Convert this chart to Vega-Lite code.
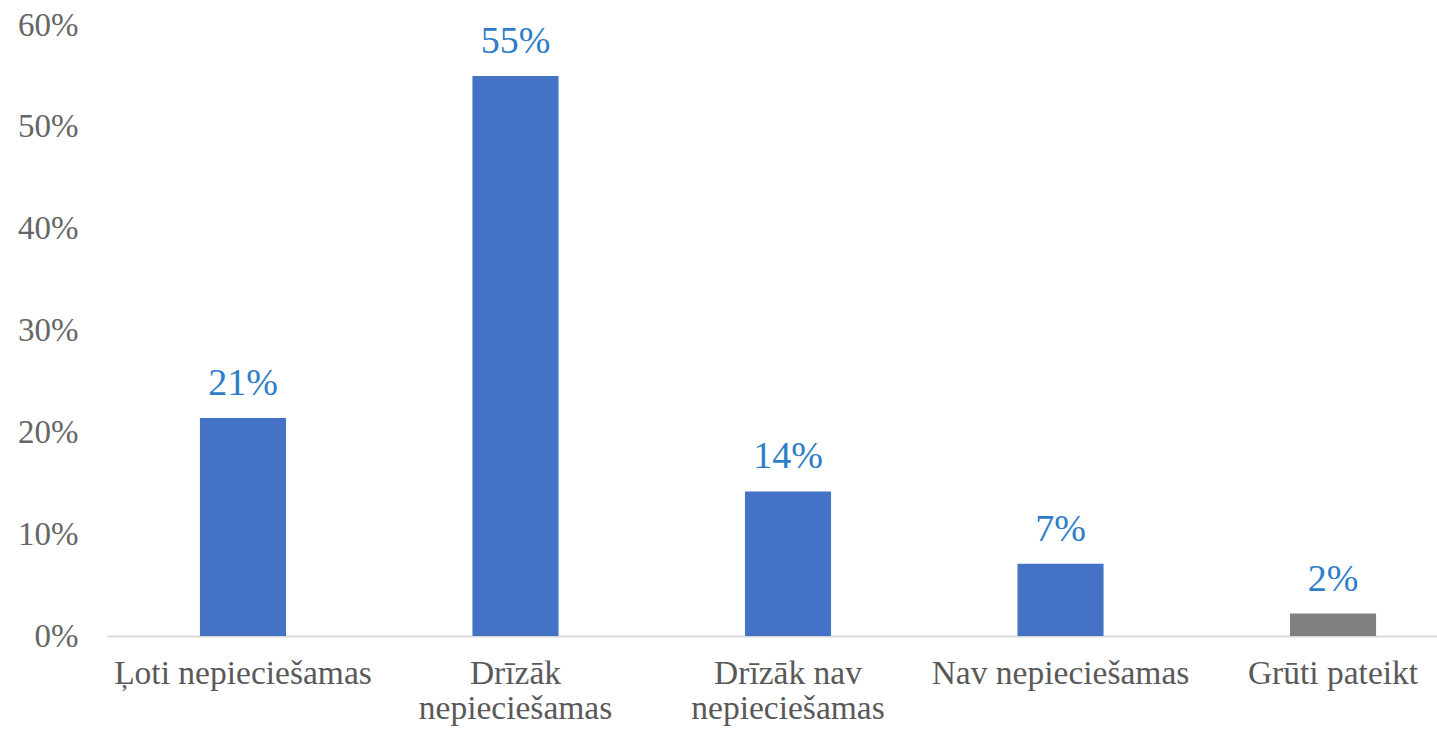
{
  "$schema": "https://vega.github.io/schema/vega-lite/v6.json",
  "autosize": "none",
  "width": 1362,
  "height": 611,
  "padding": {"left": 107, "top": 25, "right": 0, "bottom": 95},
  "background": "white",
  "data": {
    "values": [
      {"category": "Ļoti nepieciešamas", "value": 0.214, "group": "a"},
      {"category": "Drīzāk nepieciešamas", "value": 0.55, "group": "a"},
      {"category": "Drīzāk nav nepieciešamas", "value": 0.142, "group": "a"},
      {"category": "Nav nepieciešamas", "value": 0.071, "group": "a"},
      {"category": "Grūti pateikt", "value": 0.022, "group": "b"}
    ]
  },
  "config": {
    "view": {"stroke": null},
    "font": "Liberation Serif"
  },
  "encoding": {
    "x": {
      "field": "category",
      "type": "nominal",
      "sort": null,
      "scale": {"paddingInner": 0.684, "paddingOuter": 0.341},
      "axis": {
        "title": null,
        "labelAngle": 0,
        "labelFont": "Liberation Serif",
        "labelFontSize": 33.5,
        "labelColor": "#595959",
        "labelBaseline": "top",
        "labelPadding": 21,
        "labelLineHeight": 35,
        "labelLimit": 400,
        "ticks": false,
        "domainColor": "#d9d9d9",
        "domainWidth": 2,
        "labelExpr": "datum.value == 'Drīzāk nepieciešamas' ? ['Drīzāk', 'nepieciešamas'] : datum.value == 'Drīzāk nav nepieciešamas' ? ['Drīzāk nav', 'nepieciešamas'] : datum.value"
      }
    },
    "y": {
      "field": "value",
      "type": "quantitative",
      "scale": {"domain": [0, 0.6], "nice": false},
      "axis": {
        "title": null,
        "format": ".0%",
        "values": [0, 0.1, 0.2, 0.3, 0.4, 0.5, 0.6],
        "grid": false,
        "domain": false,
        "ticks": false,
        "labelFont": "Liberation Serif",
        "labelFontSize": 33,
        "labelColor": "#666666",
        "labelPadding": 29
      }
    }
  },
  "layer": [
    {
      "mark": {"type": "bar"},
      "encoding": {
        "color": {
          "field": "group",
          "type": "nominal",
          "scale": {"domain": ["a", "b"], "range": ["#4472C4", "#7F7F7F"]},
          "legend": null
        }
      }
    },
    {
      "mark": {"type": "text", "baseline": "alphabetic", "dy": -23, "fontSize": 38, "color": "#2E7DC8", "font": "Liberation Serif"},
      "encoding": {
        "text": {"field": "value", "type": "quantitative", "format": ".0%"}
      }
    }
  ]
}
